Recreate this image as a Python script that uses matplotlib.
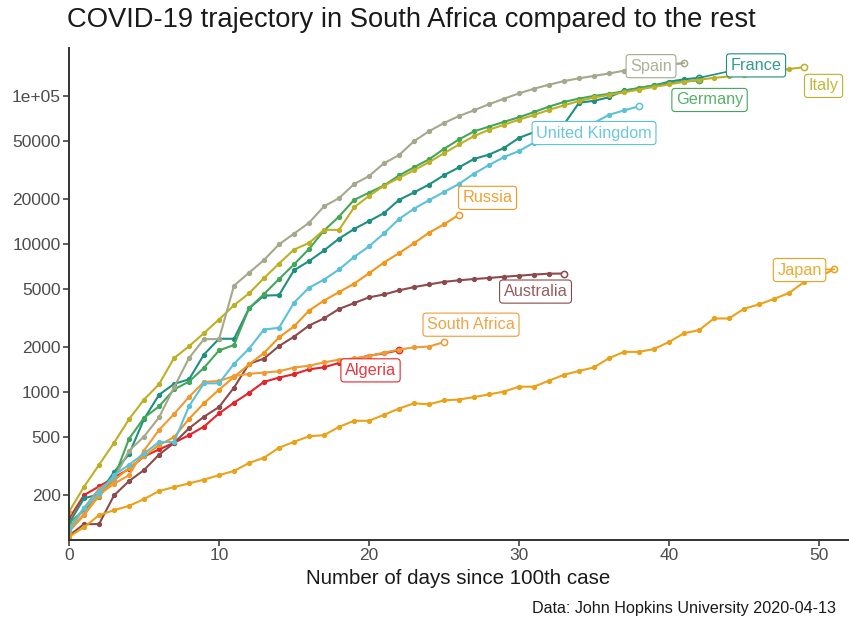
import matplotlib
matplotlib.use("Agg")
import matplotlib.pyplot as plt
import numpy as np

plt.rcParams['font.family'] = ['Liberation Sans', 'DejaVu Sans']

# ---- data: confirmed cases by days since the 100th case ----
algeria = [139, 201, 230, 264, 302, 367, 409, 454, 511, 584, 716, 847, 986, 1171,
           1251, 1320, 1423, 1468, 1572, 1666, 1761, 1825, 1914]
australia = [107, 128, 128, 200, 250, 297, 377, 452, 568, 681, 791, 1071, 1549, 1682,
             2044, 2364, 2810, 3143, 3640, 3984, 4361, 4559, 4862, 5116, 5330, 5550,
             5687, 5797, 5895, 6010, 6108, 6215, 6303, 6315]
france = [130, 191, 204, 288, 380, 656, 957, 1134, 1217, 1792, 2289, 2289, 3672, 4480,
          4513, 6650, 7660, 9043, 10871, 12612, 14282, 16176, 19856, 22304, 25233,
          29155, 32964, 37575, 40174, 44550, 52128, 56989, 59105, 64338, 89953, 92839,
          98010, 109069, 112950, 117749, 124869, 129654, 132591]
germany = [130, 159, 196, 262, 482, 670, 799, 1040, 1176, 1457, 1908, 2078, 3675, 4585,
           5795, 7272, 9257, 12327, 15320, 19848, 22213, 24873, 29056, 32986, 37323,
           43938, 50871, 57695, 62095, 66885, 71808, 77872, 84794, 91159, 96092, 100123,
           103374, 107663, 113296, 118181, 122171, 124908, 127854]
italy = [155, 229, 322, 453, 655, 888, 1128, 1694, 2036, 2502, 3089, 3858, 4636, 5883,
         7375, 9172, 10149, 12462, 12462, 17660, 21157, 24747, 27980, 31506, 35713,
         41035, 47021, 53578, 59138, 63927, 69176, 74386, 80589, 86498, 92472, 97689,
         101739, 105792, 110574, 115242, 119827, 124632, 128948, 132547, 135586,
         139422, 143626, 147577, 152271, 156363]
japan = [105, 122, 147, 159, 170, 189, 214, 228, 241, 256, 274, 293, 331, 360, 420,
         461, 502, 511, 581, 639, 639, 701, 773, 839, 825, 878, 889, 924, 963, 1007,
         1086, 1086, 1193, 1307, 1387, 1468, 1693, 1866, 1866, 1953, 2178, 2495, 2617,
         3139, 3139, 3654, 3906, 4257, 4667, 5530, 6005, 6748]
russia = [114, 147, 199, 253, 306, 367, 438, 495, 658, 840, 1036, 1264, 1534, 1836,
          2337, 2777, 3548, 4149, 4731, 5389, 6343, 7497, 8672, 10131, 11917, 13584,
          15770]
south_africa = [116, 150, 202, 240, 274, 402, 554, 709, 927, 1170, 1187, 1280, 1326,
                1353, 1380, 1462, 1505, 1585, 1655, 1686, 1749, 1845, 1934, 2003, 2028,
                2173]
spain = [120, 165, 222, 259, 400, 500, 673, 1073, 1695, 2277, 2277, 5232, 6391, 7798,
         9942, 11748, 13910, 17963, 20410, 25374, 28768, 35136, 39885, 49515, 57786,
         65719, 73235, 80110, 87956, 95923, 104118, 112065, 119199, 126168, 131646,
         136675, 141942, 148220, 153222, 158273, 163027, 166831]
united_kingdom = [116, 164, 207, 274, 322, 384, 459, 459, 802, 1144, 1145, 1551, 1960,
                  2642, 2716, 4014, 5067, 5745, 6726, 8164, 9640, 11812, 14745, 17312,
                  19780, 22453, 25481, 29865, 34173, 38689, 42477, 48436, 52279, 55949,
                  61474, 65872, 74605, 79874, 85206]

countries = ["Algeria", "Australia", "France", "Germany", "Italy", "Japan", "Russia",
             "South Africa", "Spain", "United Kingdom"]
values = [algeria, australia, france, germany, italy, japan, russia, south_africa,
          spain, united_kingdom]

y_ticks = [200, 500, 1000, 2000, 5000, 10000, 20000, 50000, 100000]
y_tick_labels = ["200", "500", "1000", "2000", "5000", "10000", "20000", "50000", "1e+05"]
x_ticks = [0, 10, 20, 30, 40, 50]

# ---- style / layout ----
colors = {
    "Algeria": "#e3242b",
    "Australia": "#8c4a4c",
    "France": "#1f8f80",
    "Germany": "#43a75a",
    "Italy": "#bdb027",
    "Japan": "#eaa21a",
    "Russia": "#f2961c",
    "South Africa": "#ef9a34",
    "Spain": "#a4a98c",
    "United Kingdom": "#5cc1d8",
}
label_pos = {  # (x, y) in data coordinates, label centre
    "Spain": (38.8, 159000),
    "France": (45.8, 161000),
    "Italy": (50.3, 117000),
    "Germany": (42.7, 94000),
    "United Kingdom": (35.0, 56200),
    "Russia": (27.9, 20500),
    "Australia": (31.1, 4770),
    "South Africa": (26.8, 2850),
    "Algeria": (20.1, 1400),
    "Japan": (48.7, 6670),
}
segment = {"Spain", "France", "Japan"}

fig = plt.figure(figsize=(8.5, 6.21), dpi=100)
ax = fig.add_axes([69 / 850, 81 / 621, (848 - 69) / 850, (540 - 48) / 621])

for i, (name, vals) in enumerate(zip(countries, values)):
    col = colors[name]
    x = np.arange(len(vals))
    z = 2 + i * 0.01
    ax.plot(x, vals, color=col, lw=1.5, marker='o', ms=2.8, mec=col, zorder=z)
    ax.plot(x[-1], vals[-1], marker='o', ms=4.5, mfc='white', mec=col, mew=1.1,
            zorder=z + 0.005)

for name, vals in zip(countries, values):
    col = colors[name]
    lx, ly = label_pos[name]
    if name in segment:
        ax.plot([len(vals) - 1, lx], [vals[-1], ly], color=col, lw=1.2, zorder=3.5)
    ax.text(lx, ly, name, color=col, fontsize=11.7, ha='center', va='center', zorder=5,
            alpha=0.9,
            bbox=dict(boxstyle='round,pad=0.25,rounding_size=0.2', fc='white',
                      ec=col, lw=0.8, alpha=1.0))

ax.set_yscale('log')
ax.set_ylim(100, 211000)
ax.set_xlim(0, 51.93)
ax.set_yticks(y_ticks)
ax.set_yticklabels(y_tick_labels)
ax.yaxis.set_minor_locator(matplotlib.ticker.NullLocator())
ax.set_xticks(x_ticks)

for s in ['top', 'right']:
    ax.spines[s].set_visible(False)
for s in ['left', 'bottom']:
    ax.spines[s].set_color('#333333')
    ax.spines[s].set_linewidth(1.4)
ax.tick_params(axis='both', colors='#333333', length=4, width=1.1, labelsize=12.5,
               labelcolor='#4d4d4d', pad=2)

fig.text(67 / 850, 1 - 20 / 621, "COVID-19 trajectory in South Africa compared to the rest",
         fontsize=19.7, va='center', ha='left', color='#1a1a1a')
fig.text(458.5 / 850, 1 - 579 / 621, "Number of days since 100th case",
         fontsize=14.8, va='center', ha='center', color='#1a1a1a')
fig.text(836 / 850, 1 - 608 / 621, "Data: John Hopkins University 2020-04-13",
         fontsize=11.6, va='center', ha='right', color='#1a1a1a')

fig.savefig("out.png", dpi=100, facecolor='white')
